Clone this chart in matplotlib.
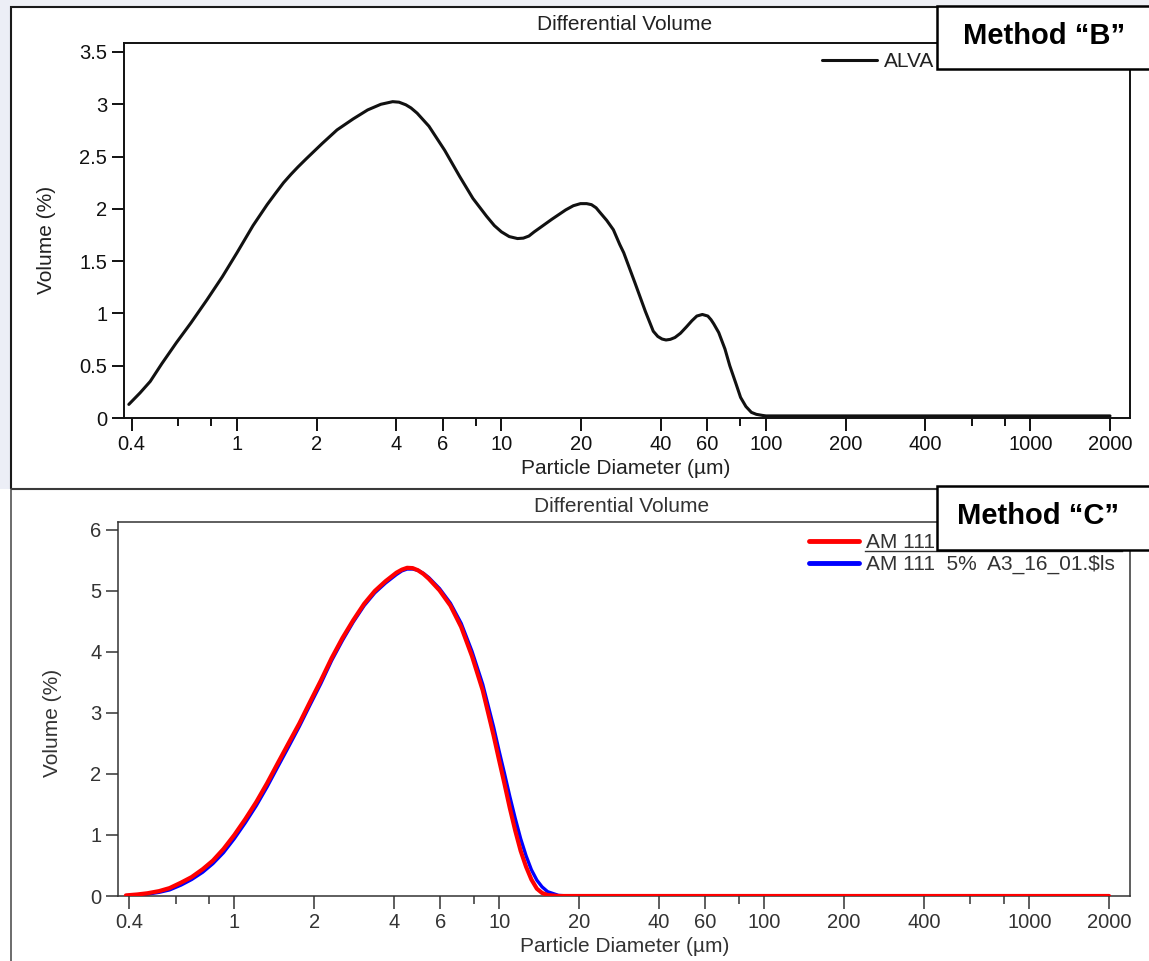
import matplotlib
matplotlib.use("Agg")
import matplotlib.pyplot as plt
from matplotlib.patches import Rectangle
from matplotlib.lines import Line2D

plt.rcParams['font.family'] = ['Liberation Sans', 'DejaVu Sans']

# ---- data -------------------------------------------------------------
# Method "B": differential volume distribution
diam_b = [0.39, 0.43, 0.47, 0.52, 0.59, 0.67, 0.77, 0.88, 1.0, 1.15, 1.3, 1.4,
          1.5, 1.6, 1.7, 1.83, 2.1, 2.39, 2.75, 3.12, 3.5, 3.88, 4.1, 4.35,
          4.55, 4.8, 5.32, 6.1, 6.95, 7.8, 8.78, 9.4, 10.0, 10.7, 11.5, 12.1,
          12.7, 13.3, 14.0, 15.5, 17.5, 18.7, 19.9, 21.0, 21.9, 22.8, 23.5,
          25.0, 26.5, 28.0, 29.0, 32.0, 35.0, 37.5, 39.0, 40.5, 41.9, 43.5,
          45.3, 47.5, 50.0, 52.5, 54.8, 57.5, 60.3, 62.0, 63.5, 66.3, 70.0,
          73.0, 77.0, 80.2, 84.0, 88.1, 92.0, 96.9, 100.0, 2000.0]
vol_b = [0.13, 0.24, 0.35, 0.52, 0.72, 0.91, 1.13, 1.35, 1.58, 1.84, 2.04, 2.15,
         2.25, 2.33, 2.40, 2.48, 2.625, 2.755, 2.86, 2.946, 3.00, 3.025, 3.02, 2.995,
         2.965, 2.915, 2.79, 2.56, 2.31, 2.10, 1.93, 1.84, 1.78, 1.735, 1.716, 1.72,
         1.74, 1.78, 1.82, 1.90, 1.99, 2.03, 2.05, 2.05, 2.04, 2.01, 1.97,
         1.89, 1.80, 1.66, 1.58, 1.29, 1.02, 0.83, 0.78, 0.755, 0.746, 0.752,
         0.77, 0.81, 0.87, 0.93, 0.975, 0.99, 0.975, 0.94, 0.90, 0.817, 0.66,
         0.50, 0.33, 0.197, 0.11, 0.054, 0.035, 0.025, 0.02, 0.02]
label_b = "ALVA"

# Method "C": two repeat runs
diam_c = [0.39, 0.43, 0.47, 0.52, 0.57, 0.63, 0.69, 0.76, 0.83, 0.91, 1.0, 1.1,
          1.21, 1.33, 1.46, 1.6, 1.76, 1.93, 2.12, 2.33, 2.56, 2.81, 3.09, 3.39,
          3.72, 4.09, 4.29, 4.49, 4.71, 4.93, 5.17, 5.42, 5.95, 6.54, 7.18,
          7.89, 8.66, 9.52, 9.98, 10.46, 10.96, 11.49, 12.04, 12.62, 13.22,
          13.86, 14.5, 15.23, 16.73, 18.38, 2000.0]
vol_c_red = [0.01, 0.025, 0.045, 0.08, 0.13, 0.22, 0.31, 0.44, 0.58, 0.77, 1.00, 1.26,
             1.54, 1.85, 2.18, 2.50, 2.83, 3.18, 3.53, 3.90, 4.23, 4.52, 4.79, 5.00,
             5.16, 5.30, 5.35, 5.38, 5.375, 5.34, 5.28, 5.20, 5.01, 4.76, 4.41,
             3.93, 3.37, 2.63, 2.23, 1.84, 1.44, 1.07, 0.74, 0.48, 0.27,
             0.12, 0.05, 0.015, 0.0, 0.0, 0.0]
vol_c_blue = [0.005, 0.015, 0.03, 0.06, 0.10, 0.18, 0.27, 0.39, 0.53, 0.71, 0.94, 1.20,
              1.48, 1.79, 2.12, 2.44, 2.78, 3.13, 3.48, 3.86, 4.19, 4.49, 4.76, 4.97,
              5.13, 5.27, 5.33, 5.36, 5.36, 5.34, 5.29, 5.22, 5.04, 4.80, 4.47,
              4.01, 3.47, 2.77, 2.38, 2.01, 1.63, 1.27, 0.94, 0.66, 0.43,
              0.26, 0.15, 0.07, 0.01, 0.0, 0.0]
label_red = "AM 111"
label_blue = "AM 111  5%  A3_16_01.$ls"

x_major = [0.4, 1, 2, 4, 6, 10, 20, 40, 60, 100, 200, 400, 1000, 2000]
x_major_labels = ["0.4", "1", "2", "4", "6", "10", "20", "40", "60", "100",
                  "200", "400", "1000", "2000"]
x_minor = [0.6, 0.8, 8, 80, 600, 800]
y_ticks_b = [0, 0.5, 1, 1.5, 2, 2.5, 3, 3.5]
y_labels_b = ["0", "0.5", "1", "1.5", "2", "2.5", "3", "3.5"]
y_ticks_c = [0, 1, 2, 3, 4, 5, 6]

# ---- figure -----------------------------------------------------------
W, H = 1149, 961
fig = plt.figure(figsize=(W / 100, H / 100), dpi=100)
fig.patch.set_facecolor("white")


def fx(px):
    return px / W


def fy(py):
    return 1 - py / H


def frect(x0, y0, x1, y1, **kw):
    r = Rectangle((fx(x0), fy(y1)), fx(x1) - fx(x0), fy(y0) - fy(y1),
                  transform=fig.transFigure, **kw)
    fig.add_artist(r)
    return r


# page background tint around the upper panel
frect(0, 0, 1149, 6, facecolor="#eef0f5", edgecolor="none", zorder=-5)
frect(0, 0, 10, 489, facecolor="#eceef6", edgecolor="none", zorder=-5)

# panel frames
frect(11, 7, 1170, 489, facecolor="none", edgecolor="#1a1a1a", lw=1.5, zorder=1)
frect(11, 489, 1170, 990, facecolor="none", edgecolor="#444444", lw=1.1, zorder=1)


def style_axis(ax, color, lw, xlim, ylim):
    ax.set_xscale("log")
    ax.set_xlim(*xlim)
    ax.set_ylim(*ylim)
    ax.set_xticks(x_major)
    ax.set_xticklabels(x_major_labels)
    ax.set_xticks(x_minor, minor=True)
    ax.xaxis.set_minor_formatter(matplotlib.ticker.NullFormatter())
    ax.tick_params(axis="both", which="major", direction="out", length=9,
                   width=lw, color=color, labelcolor=color, labelsize=14.5, pad=3)
    ax.tick_params(axis="x", which="minor", direction="out", length=6,
                   width=lw, color=color)
    ax.tick_params(axis="y", which="minor", left=False)
    for s in ax.spines.values():
        s.set_color(color)
        s.set_linewidth(lw)
    ax.set_facecolor("white")


# ---- upper panel: Method "B" -----------------------------------------
ax1 = fig.add_axes([fx(124), fy(418), fx(1130) - fx(124), fy(43) - fy(418)])
style_axis(ax1, "#111111", 1.4, (0.374, 2380), (0, 3.586))
ax1.set_yticks(y_ticks_b)
ax1.set_yticklabels(y_labels_b)
ax1.plot(diam_b, vol_b, color="#111111", lw=2.2, solid_joinstyle="round",
         solid_capstyle="round", label=label_b)
leg1 = ax1.legend(loc="upper left", bbox_to_anchor=(fx(822), fy(52)),
                  bbox_transform=fig.transFigure, frameon=False, fontsize=15,
                  borderpad=0, borderaxespad=0, handlelength=2.64,
                  handletextpad=0.34)
for t in leg1.get_texts():
    t.set_color("#222222")

fig.text(fx(625), fy(24), "Differential Volume", fontsize=15, color="#222222",
         ha="center", va="center")
fig.text(fx(626), fy(469), "Particle Diameter (µm)", fontsize=15,
         color="#222222", ha="center", va="center")
fig.text(fx(47), fy(240), "Volume (%)", fontsize=15, color="#222222",
         ha="center", va="center", rotation=90)

# ---- lower panel: Method "C" -----------------------------------------
ax2 = fig.add_axes([fx(118), fy(896), fx(1130) - fx(118), fy(522) - fy(896)])
style_axis(ax2, "#333333", 1.1, (0.364, 2400), (0, 6.131))
ax2.set_yticks(y_ticks_c)
ax2.plot(diam_c, vol_c_red, color="#ff0000", lw=3.0, solid_joinstyle="round",
         solid_capstyle="round", label=label_red, zorder=3)
ax2.plot(diam_c, vol_c_blue, color="#0000ff", lw=2.4, solid_joinstyle="round",
         solid_capstyle="round", label=label_blue, zorder=2)
leg2 = ax2.legend(loc="upper left", bbox_to_anchor=(fx(809), fy(533)),
                  bbox_transform=fig.transFigure, frameon=False, fontsize=15,
                  borderpad=0, borderaxespad=0, handlelength=2.4,
                  handletextpad=0.34, labelspacing=0.15)
for t in leg2.get_texts():
    t.set_color("#333333")
for h in leg2.legend_handles:
    h.set_linewidth(3.5)
fig.add_artist(Line2D([fx(865), fx(1122)], [fy(551), fy(551)],
                      transform=fig.transFigure, color="#333333", lw=1.0,
                      zorder=4))

fig.text(fx(622), fy(506), "Differential Volume", fontsize=15, color="#333333",
         ha="center", va="center")
fig.text(fx(625), fy(946), "Particle Diameter (µm)", fontsize=15,
         color="#333333", ha="center", va="center")
fig.text(fx(53), fy(723), "Volume (%)", fontsize=15, color="#333333",
         ha="center", va="center", rotation=90)

# ---- method call-out boxes -------------------------------------------
frect(937, 6, 1170, 69, facecolor="white", edgecolor="black", lw=1.8, zorder=10)
fig.text(fx(1044), fy(36), "Method “B”", fontsize=21, fontweight="bold",
         color="black", ha="center", va="center", zorder=11)
frect(937, 486, 1170, 550, facecolor="white", edgecolor="black", lw=1.8, zorder=10)
fig.text(fx(1038), fy(516), "Method “C”", fontsize=21, fontweight="bold",
         color="black", ha="center", va="center", zorder=11)

fig.savefig("out.png", dpi=100)
